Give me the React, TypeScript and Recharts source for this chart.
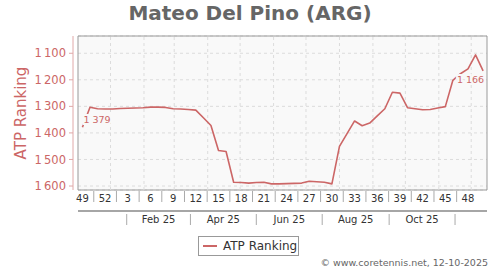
import React from "react";
import {
  LineChart,
  Line,
  XAxis,
  YAxis,
  CartesianGrid,
  ReferenceArea,
  ReferenceLine,
  Legend,
  LabelList,
  Customized,
} from "recharts";

const FONT = "DejaVu Sans, Verdana, sans-serif";
const RED = "#cc6666";

const playerName = "Mateo Del Pino (ARG)";
const seriesName = "ATP Ranking";
const credit = "© www.coretennis.net, 12-10-2025";

// weekly ranking, first point = week 49 of 2024
const firstWeekDate = "2024-12-06";
const rankings = [
  1379, 1303, 1309, 1310, 1310, 1308, 1307, 1306, 1305, 1303, 1303, 1304, 1309,
  1310, 1312, 1314, 1343, 1372, 1466, 1470, 1586, 1587, 1589, 1587, 1586, 1592,
  1592, 1591, 1590, 1589, 1582, 1584, 1586, 1592, 1451, 1403, 1355, 1373, 1363,
  1336, 1309, 1247, 1250, 1305, 1309, 1313, 1312, 1306, 1301, 1202, 1177, 1159,
  1106, 1166,
];

const weekTickLabels = ["49", "52", "3", "6", "9", "12", "15", "18", "21", "24", "27", "30", "33", "36", "39", "42", "45", "48"];
const monthLabels = ["Feb 25", "Apr 25", "Jun 25", "Aug 25", "Oct 25"];
const monthSeparatorDates = ["2025-01-16", "2025-03-16", "2025-05-16", "2025-07-16", "2025-09-16", "2025-11-16"];
const monthGridDates = [
  "2025-01-01", "2025-02-01", "2025-03-01", "2025-04-01", "2025-05-01", "2025-06-01",
  "2025-07-01", "2025-08-01", "2025-09-01", "2025-10-01", "2025-11-01", "2025-12-01",
];
const rankTicks = [1100, 1200, 1300, 1400, 1500, 1600];

const DAY_MS = 86400000;
const dayOf = (iso: string) =>
  (Date.parse(iso + "T00:00:00Z") - Date.parse(firstWeekDate + "T00:00:00Z")) / DAY_MS;

const data = rankings.map((rank, i) => ({ day: i * 7, rank }));
const weekLabelPos = weekTickLabels.map((_, k) => k * 21);
const weekSepPos = weekLabelPos.slice(0, -1).map((p) => p + 10.5);
const weekLabelMap = new Map<number, string>(weekLabelPos.map((p, k) => [p, weekTickLabels[k]]));
const monthSepPos = monthSeparatorDates.map(dayOf);
const monthLabelPos = monthLabels.map((_, k) => (monthSepPos[k] + monthSepPos[k + 1]) / 2);
const monthLabelMap = new Map<number, string>(monthLabelPos.map((p, k) => [p, monthLabels[k]]));
const monthGridPos = monthGridDates.map(dayOf);

const X_DOMAIN: [number, number] = [-4.1, 374.6];
const Y_DOMAIN: [number, number] = [1035, 1615];

const fmtRank = (v: number) => String(v).replace(/\B(?=(\d{3})+(?!\d))/g, "\u2009");
const fmtLabel = (v: number) => String(v).replace(/\B(?=(\d{3})+(?!\d))/g, " ");

const WeekTick = (props: any) => {
  const { x, y, payload } = props;
  const label = weekLabelMap.get(payload.value);
  if (label !== undefined) {
    return (
      <text x={x} y={y + 12} textAnchor="middle" fontSize={10} fontFamily={FONT} fill="#333">
        {label}
      </text>
    );
  }
  return <line x1={x} x2={x} y1={y + 1} y2={y + 12} stroke="#aaa" strokeWidth={1} />;
};

const MonthTick = (props: any) => {
  const { x, y, payload } = props;
  const label = monthLabelMap.get(payload.value);
  if (label !== undefined) {
    return (
      <text x={x} y={y + 11} textAnchor="middle" fontSize={10} fontFamily={FONT} fill="#333">
        {label}
      </text>
    );
  }
  return <line x1={x} x2={x} y1={y + 2} y2={y + 13} stroke="#aaa" strokeWidth={1} />;
};

const YTitle = (props: any) => {
  const vb = props.viewBox || {};
  const cy = (vb.y ?? 36) + (vb.height ?? 154) / 2;
  return (
    <text
      transform={`translate(21, ${cy}) rotate(-90)`}
      textAnchor="middle"
      dominantBaseline="central"
      fontSize={15}
      fontFamily={FONT}
      fill={RED}
    >
      {seriesName}
    </text>
  );
};

const EndLabel = (props: any) => {
  const vb = props.viewBox || {};
  const x = props.x ?? vb.x;
  const y = props.y ?? vb.y;
  const { index, value } = props;
  const common = {
    fontSize: 9.5,
    fontFamily: FONT,
    fill: RED,
    stroke: "#f9f9f9",
    strokeWidth: 4,
    paintOrder: "stroke" as any,
  };
  if (index === 0) {
    return (
      <text x={x + 1} y={y - 4} textAnchor="start" {...common}>
        {fmtLabel(value)}
      </text>
    );
  }
  if (index === rankings.length - 1) {
    return (
      <text x={x + 1} y={y + 12.5} textAnchor="end" {...common}>
        {fmtLabel(value)}
      </text>
    );
  }
  return null;
};

const Decorations = () => (
  <g>
    <text x={250} y={19.5} textAnchor="middle" fontSize={20} fontWeight="bold" fontFamily={FONT} fill="#666">
      {playerName}
    </text>
    <text x={488} y={265.5} textAnchor="end" fontSize={9.5} fontFamily={FONT} fill="#666">
      {credit}
    </text>
  </g>
);

const LegendBox = () => (
  <div
    style={{
      boxSizing: "border-box",
      width: 101,
      height: 20,
      border: "1px solid #999",
      background: "#fff",
      display: "flex",
      alignItems: "center",
      fontFamily: FONT,
      fontSize: 12,
      color: "#333",
      whiteSpace: "nowrap",
    }}
  >
    <span style={{ display: "inline-block", width: 14, height: 2, background: RED, marginLeft: 4, marginRight: 6 }} />
    {seriesName}
  </div>
);

export default function App() {
  return (
    <div style={{ position: "absolute", left: 0, top: 0, width: 500, height: 270, background: "#fff" }}>
      <LineChart width={500} height={270} data={data} margin={{ top: 36, right: 13, bottom: 44, left: 0 }}>
        <CartesianGrid vertical={false} stroke="#dcdcdc" strokeDasharray="3 3" fill="#f9f9f9" />
        {monthGridPos.map((p) => (
          <ReferenceLine key={p} x={p} stroke="#dcdcdc" strokeDasharray="3 3" strokeWidth={1} />
        ))}
        <XAxis
          xAxisId="g"
          dataKey="day"
          type="number"
          domain={X_DOMAIN}
          allowDataOverflow
          ticks={monthGridPos}
          interval={0}
          tick={false}
          tickSize={4}
          height={6}
          axisLine={{ stroke: "#888", strokeWidth: 1.5, transform: "translate(0,5)" }}
          tickLine={{ stroke: "#999", transform: "translate(0,5)" }}
        />
        <XAxis
          dataKey="day"
          type="number"
          domain={X_DOMAIN}
          allowDataOverflow
          ticks={[...weekLabelPos, ...weekSepPos]}
          interval={0}
          tick={<WeekTick />}
          tickSize={0}
          tickMargin={0}
          tickLine={false}
          axisLine={false}
          height={16}
        />
        <XAxis
          xAxisId="m"
          dataKey="day"
          type="number"
          domain={X_DOMAIN}
          allowDataOverflow
          ticks={[...monthLabelPos, ...monthSepPos]}
          interval={0}
          tick={<MonthTick />}
          tickSize={0}
          tickMargin={0}
          tickLine={false}
          axisLine={false}
          height={14}
        />
        <YAxis
          type="number"
          reversed
          domain={Y_DOMAIN}
          allowDataOverflow
          ticks={rankTicks}
          interval={0}
          width={78}
          tickSize={4}
          tickMargin={8}
          tickFormatter={fmtRank}
          tick={{ fill: RED, fontSize: 11.5, fontFamily: FONT }}
          axisLine={{ stroke: "#e0a8a8", transform: "translate(-5,0)" }}
          tickLine={{ stroke: "#e0a8a8", transform: "translate(-5,0)" }}
          label={(p: any) => <YTitle {...p} />}
        />
        <ReferenceArea
          x1={X_DOMAIN[0]}
          x2={X_DOMAIN[1]}
          y1={Y_DOMAIN[0]}
          y2={Y_DOMAIN[1]}
          fill="none"
          fillOpacity={0}
          stroke="#999"
          strokeWidth={1}
        />
        <Line
          dataKey="rank"
          name={seriesName}
          type="linear"
          stroke={RED}
          strokeWidth={1.6}
          strokeLinejoin="round"
          dot={false}
          activeDot={false}
          isAnimationActive={false}
        >
          <LabelList dataKey="rank" content={(p: any) => <EndLabel {...p} />} />
        </Line>
        <Legend
          layout="horizontal"
          verticalAlign="middle"
          align="center"
          wrapperStyle={{ position: "absolute", left: 198, top: 236, width: 101, height: 20 }}
          content={() => <LegendBox />}
        />
        <Customized component={Decorations} />
      </LineChart>
    </div>
  );
}
